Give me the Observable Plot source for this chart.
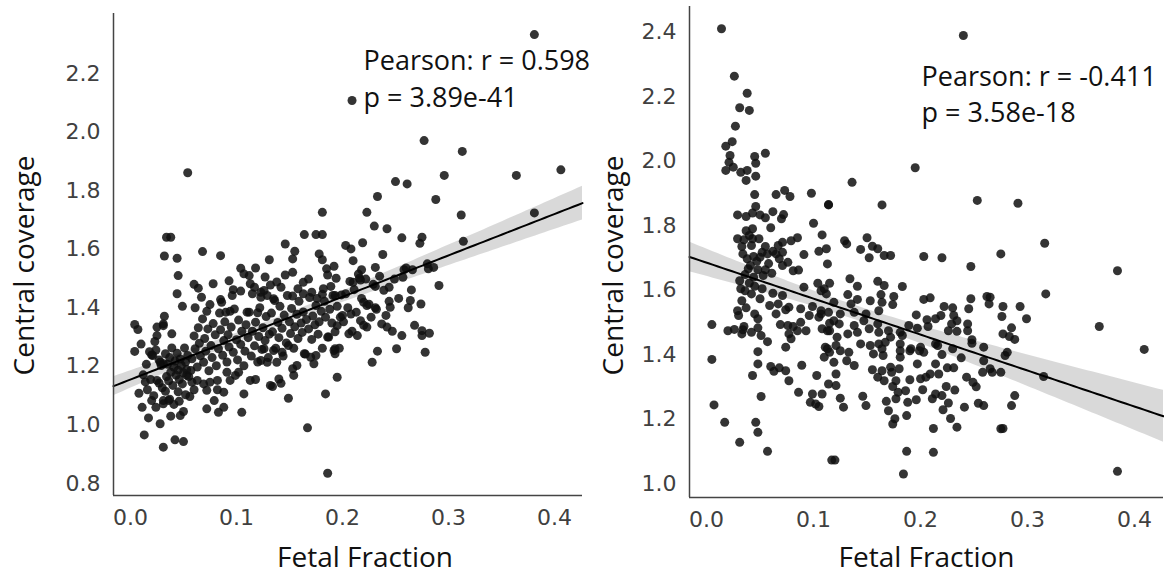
<!DOCTYPE html>
<html><head><meta charset="utf-8">
<script src="https://cdn.jsdelivr.net/npm/d3@7"></script>
<script src="https://cdn.jsdelivr.net/npm/@observablehq/plot@0.6"></script>
<style>
body{margin:0;background:#fff;}
#wrap{display:flex;width:1164px;height:574px;overflow:hidden;background:#fff;}
#wrap svg{overflow:visible;}
</style></head><body><div id="wrap"></div>
<script>
const xTicks = [0.0, 0.1, 0.2, 0.3, 0.4];
const leftYTicks = [0.8, 1.0, 1.2, 1.4, 1.6, 1.8, 2.0, 2.2];
const rightYTicks = [1.0, 1.2, 1.4, 1.6, 1.8, 2.0, 2.2, 2.4];
const xLabel = "Fetal Fraction";
const yLabel = "Central coverage";
const leftStats = ["Pearson: r = 0.598", "p = 3.89e-41"];
const rightStats = ["Pearson: r = -0.411", "p = 3.58e-18"];

// [fetal fraction, central coverage] — left panel
const leftPoints = [
[0.054,1.861],[0.034,1.641],[0.038,1.641],[0.032,1.577],[0.044,1.569],[0.068,1.592],[0.085,1.578],[0.131,1.564],[0.045,1.510],[0.104,1.535],[0.118,1.536],[0.107,1.516],[0.112,1.510],[0.078,1.482],[0.064,1.467],[0.113,1.482],[0.097,1.462],[0.104,1.457],[0.044,1.448],[0.067,1.436],[0.085,1.428],[0.086,1.419],[0.096,1.442],[0.115,1.448],[0.123,1.453],[0.129,1.442],[0.049,1.405],[0.061,1.400],[0.075,1.411],[0.072,1.388],[0.090,1.385],[0.094,1.388],[0.110,1.385],[0.120,1.383],[0.032,1.371],
[0.004,1.343],[0.007,1.326],[0.031,1.345],[0.031,1.339],[0.025,1.334],[0.025,1.305],[0.039,1.311],[0.004,1.251],[0.020,1.239],[0.028,1.214],[0.031,1.209],[0.019,1.155],[0.025,1.152],[0.030,1.127],[0.016,1.120],[0.022,1.100],[0.020,1.083],[0.024,1.060],[0.031,1.083],[0.036,1.083],[0.031,1.072],[0.017,1.024],[0.028,1.004],[0.013,0.966],[0.031,0.924],[0.042,0.949],[0.050,0.943],[0.038,1.030],[0.047,1.032],[0.050,1.046],
[0.056,1.097],[0.072,1.055],[0.079,1.083],[0.088,1.060],[0.083,1.043],[0.105,1.043],[0.107,1.106],[0.113,1.152],[0.118,1.155],[0.072,1.118],[0.082,1.120],[0.088,1.112],[0.060,1.120],[0.063,1.152],[0.058,1.146],[0.057,1.186],[0.053,1.169],[0.069,1.140],[0.075,1.146],[0.082,1.152],[0.091,1.180],[0.099,1.169],[0.094,1.152],[0.102,1.180],[0.132,1.135],
[0.250,1.831],[0.261,1.823],[0.233,1.780],[0.181,1.726],[0.223,1.726],[0.230,1.679],[0.242,1.670],[0.164,1.650],[0.175,1.650],[0.181,1.650],[0.256,1.639],[0.275,1.641],[0.273,1.620],[0.146,1.618],[0.155,1.593],[0.153,1.567],
[0.203,1.613],[0.208,1.601],[0.219,1.622],[0.178,1.584],[0.181,1.564],[0.210,1.561],[0.238,1.582],[0.153,1.521],[0.185,1.533],[0.192,1.542],[0.186,1.512],[0.194,1.501],[0.218,1.530],[0.216,1.501],[0.231,1.538],[0.260,1.536],[0.266,1.530],[0.280,1.550],[0.163,1.487],[0.142,1.470],[0.153,1.440],[0.163,1.448],[0.171,1.453],[0.182,1.465],[0.189,1.473],[0.181,1.446],
[0.210,1.487],[0.217,1.495],[0.231,1.473],[0.244,1.470],[0.257,1.504],[0.265,1.461],[0.244,1.422],[0.264,1.425],[0.274,1.413],[0.199,1.444],[0.193,1.442],[0.126,1.459],[0.135,1.431],[0.123,1.436],[0.220,1.419],[0.223,1.408],[0.231,1.400],[0.241,1.374],[0.242,1.334],[0.247,1.320],[0.256,1.305],[0.275,1.322],[0.275,1.305],[0.278,1.248],[0.251,1.260],[0.233,1.252],[0.228,1.214],[0.200,1.374],[0.208,1.379],[0.206,1.311],[0.214,1.305],[0.217,1.356],[0.223,1.334],[0.195,1.339],[0.187,1.300],[0.192,1.254],[0.195,1.163],
[0.193,1.260],[0.193,1.243],[0.184,1.106],[0.149,1.091],[0.134,1.131],[0.142,1.142],[0.140,1.157],[0.154,1.169],[0.167,0.990],[0.186,0.835],[0.173,1.209],[0.175,1.237],[0.170,1.231],[0.164,1.243],[0.157,1.203],[0.153,1.192],[0.138,1.214],[0.129,1.214],[0.123,1.220],[0.126,1.260],[0.135,1.254],[0.143,1.248],[0.149,1.271],
[0.381,2.333],[0.277,1.971],[0.313,1.934],[0.296,1.852],[0.364,1.852],[0.406,1.871],[0.288,1.770],[0.312,1.717],[0.381,1.724],[0.314,1.627],[0.286,1.538],[0.281,1.533],[0.291,1.476],[0.282,1.313],[0.209,2.108],
[0.021,1.237],[0.024,1.256],[0.027,1.222],[0.029,1.203],[0.033,1.243],[0.034,1.165],[0.035,1.207],[0.036,1.151],[0.037,1.230],[0.038,1.180],[0.039,1.263],[0.040,1.135],[0.041,1.197],[0.042,1.218],[0.043,1.170],[0.044,1.245],[0.045,1.113],[0.045,1.187],[0.046,1.155],[0.047,1.225],[0.048,1.203],[0.049,1.140],[0.050,1.178],[0.051,1.263],[0.052,1.215],[0.053,1.189],[0.054,1.237],[0.055,1.165],[0.012,1.171],[0.015,1.207],[0.018,1.250],[0.010,1.276],[0.023,1.285],[0.027,1.143],[0.033,1.115],[0.037,1.088],[0.041,1.070],[0.046,1.081],[0.052,1.103],[0.008,1.108],[0.011,1.060],[0.014,1.147],
[0.058,1.226],[0.060,1.304],[0.061,1.260],[0.063,1.198],[0.064,1.332],[0.065,1.279],[0.066,1.236],[0.068,1.362],[0.069,1.214],[0.070,1.295],[0.071,1.252],[0.073,1.328],[0.074,1.185],[0.076,1.271],[0.077,1.230],[0.078,1.346],[0.080,1.308],[0.081,1.202],[0.083,1.260],[0.084,1.382],[0.085,1.325],[0.087,1.238],[0.088,1.288],[0.089,1.352],[0.091,1.215],[0.092,1.308],[0.093,1.266],[0.095,1.334],[0.097,1.248],[0.098,1.396],[0.100,1.291],[0.101,1.222],[0.102,1.358],[0.104,1.275],[0.105,1.320],[0.107,1.202],[0.108,1.252],[0.109,1.342],[0.111,1.298],[0.112,1.385],[0.114,1.235],[0.115,1.320],[0.117,1.270],[0.118,1.351],[0.120,1.215],[0.121,1.302],[0.122,1.400],[0.124,1.258],[0.125,1.332],[0.127,1.288],[0.128,1.370],[0.130,1.230],[0.131,1.310],
[0.133,1.382],[0.134,1.318],[0.136,1.425],[0.137,1.262],[0.139,1.350],[0.140,1.298],[0.141,1.405],[0.143,1.330],[0.144,1.235],[0.145,1.375],[0.147,1.280],[0.148,1.442],[0.150,1.352],[0.151,1.312],[0.152,1.398],[0.154,1.262],[0.155,1.335],[0.157,1.378],[0.158,1.295],[0.159,1.422],[0.161,1.348],[0.162,1.316],[0.163,1.386],[0.165,1.242],[0.166,1.360],[0.168,1.328],[0.169,1.435],[0.171,1.292],[0.172,1.372],[0.174,1.342],[0.175,1.408],[0.177,1.310],[0.178,1.352],[0.180,1.388],[0.181,1.262],[0.183,1.422],[0.184,1.368],[0.186,1.300],[0.188,1.395],[0.190,1.348],[0.191,1.442],[0.193,1.318],[0.195,1.405],[0.197,1.262],[0.198,1.368],
[0.201,1.352],[0.203,1.448],[0.205,1.400],[0.207,1.490],[0.209,1.320],[0.211,1.462],[0.213,1.385],[0.215,1.515],[0.218,1.432],[0.220,1.340],[0.222,1.498],[0.225,1.412],[0.227,1.368],[0.229,1.480],[0.232,1.395],[0.235,1.508],[0.237,1.345],[0.239,1.460],[0.245,1.402],[0.249,1.498],[0.253,1.432],[0.258,1.530],[0.262,1.400],[0.268,1.340],
[0.138,1.488],[0.146,1.512],[0.158,1.465],[0.168,1.498],[0.127,1.505],[0.117,1.470],[0.093,1.492],[0.176,1.432],[0.132,1.478],[0.060,1.480]
];

// [fetal fraction, central coverage] — right panel
const rightPoints = [
[0.014,2.410],[0.026,2.263],[0.038,2.210],[0.031,2.165],[0.040,2.157],[0.027,2.108],[0.024,2.060],[0.018,2.046],[0.022,2.017],[0.021,1.996],[0.018,1.971],[0.025,1.981],[0.032,1.965],[0.038,1.971],[0.037,1.940],[0.046,1.953],[0.045,2.014],[0.046,1.993],[0.055,2.024],[0.045,1.896],[0.065,1.896],[0.073,1.909],[0.078,1.890],[0.098,1.900],[0.114,1.865],[0.046,1.859],[0.029,1.833],[0.037,1.828],[0.043,1.839],[0.050,1.833],[0.055,1.824],[0.062,1.843],[0.070,1.821],[0.072,1.834],[0.100,1.807],[0.060,1.793],[0.037,1.784],[0.043,1.790],[0.040,1.769],[0.029,1.759],[0.035,1.756],[0.043,1.759],[0.049,1.759],[0.033,1.735],[0.042,1.738],[0.085,1.762],[0.079,1.753],[0.071,1.748],[0.067,1.738],[0.108,1.771],[0.112,1.728],[0.105,1.720],[0.055,1.735],[0.062,1.720],[0.052,1.717],[0.071,1.717],
[0.005,1.493],[0.005,1.385],[0.007,1.244],[0.017,1.190],[0.031,1.128],[0.046,1.190],[0.048,1.159],[0.057,1.100],[0.051,1.270],[0.043,1.335],[0.048,1.409],[0.048,1.371],[0.060,1.363],[0.063,1.348],[0.068,1.359],[0.074,1.350],[0.077,1.319],[0.089,1.367],[0.086,1.283],[0.099,1.278],[0.097,1.252],[0.102,1.247],[0.105,1.239],[0.108,1.278],[0.103,1.335],[0.114,1.309],[0.117,1.073],[0.020,1.474],[0.026,1.478],[0.034,1.477],[0.035,1.487],[0.033,1.464],[0.042,1.469],[0.048,1.483],[0.051,1.459],[0.057,1.440],[0.029,1.536],[0.030,1.521],[0.037,1.545],[0.033,1.567],[0.042,1.588],[0.050,1.573],[0.052,1.604],[0.045,1.526],[0.048,1.511],[0.032,1.604],[0.031,1.629],[0.038,1.697],[0.044,1.704],[0.041,1.676],[0.050,1.702],[0.057,1.712],[0.065,1.712],[0.068,1.697],[0.071,1.676],[0.076,1.686],[0.081,1.660],[0.086,1.662],[0.091,1.710],[0.113,1.681],[0.039,1.666],[0.048,1.663],[0.055,1.663],[0.062,1.590],[0.071,1.583],[0.067,1.557],[0.059,1.552],[0.065,1.526],[0.074,1.539],[0.077,1.547],[0.091,1.609],[0.104,1.621],[0.110,1.604],[0.115,1.621],[0.112,1.588],[0.088,1.542],[0.096,1.521],[0.105,1.516],[0.107,1.536],[0.099,1.549],[0.115,1.497],[0.115,1.474],[0.108,1.480],[0.069,1.493],[0.076,1.490],[0.081,1.487],[0.085,1.474],[0.077,1.464],[0.079,1.449],[0.074,1.423],[0.088,1.500],[0.093,1.474],[0.111,1.423],[0.115,1.407],
[0.034,1.712],[0.036,1.648],[0.040,1.622],[0.044,1.640],[0.047,1.689],[0.053,1.645],[0.058,1.682],[0.061,1.652],[0.036,1.598],[0.045,1.612],
[0.195,1.979],[0.136,1.934],[0.114,1.864],[0.164,1.864],[0.253,1.878],[0.129,1.753],[0.131,1.743],[0.150,1.762],[0.155,1.736],[0.160,1.728],[0.144,1.726],[0.152,1.700],[0.166,1.707],[0.172,1.707],[0.203,1.704],[0.220,1.700],[0.247,1.673],[0.275,1.712],[0.134,1.635],[0.141,1.612],[0.132,1.586],[0.141,1.571],[0.153,1.567],[0.160,1.627],[0.166,1.614],[0.163,1.586],[0.175,1.580],[0.183,1.611],[0.119,1.562],[0.107,1.598],[0.174,1.555],[0.164,1.562],[0.161,1.536],[0.149,1.526],[0.135,1.557],[0.138,1.531],[0.125,1.526],[0.119,1.505],[0.114,1.531],[0.203,1.571],[0.209,1.576],[0.196,1.523],[0.222,1.549],[0.230,1.545],[0.245,1.542],[0.247,1.573],[0.262,1.580],[0.264,1.557],[0.206,1.508],[0.214,1.511],[0.207,1.487],[0.219,1.521],[0.231,1.521],[0.234,1.505],[0.229,1.495],[0.226,1.474],[0.234,1.472],[0.244,1.495],[0.244,1.474],[0.248,1.446],[0.189,1.490],[0.197,1.482],[0.181,1.469],[0.183,1.459],[0.170,1.474],[0.172,1.454],[0.160,1.495],[0.161,1.469],[0.152,1.480],[0.147,1.505],[0.141,1.469],[0.138,1.490],[0.132,1.464],[0.124,1.495],[0.122,1.454],[0.113,1.474],[0.107,1.526],[0.144,1.433],[0.153,1.428],[0.161,1.433],[0.167,1.438],[0.181,1.433],[0.191,1.418],[0.200,1.423],[0.214,1.433],[0.230,1.418],[0.248,1.435],[0.259,1.423],
[0.120,1.073],[0.184,1.030],[0.187,1.100],[0.212,1.097],[0.212,1.171],[0.234,1.175],[0.228,1.202],[0.221,1.229],[0.241,1.237],[0.254,1.249],[0.259,1.242],[0.249,1.314],[0.258,1.345],[0.267,1.345],[0.259,1.381],[0.275,1.170],[0.187,1.211],[0.174,1.185],[0.176,1.201],[0.170,1.226],[0.168,1.255],[0.177,1.263],[0.188,1.252],[0.196,1.260],[0.186,1.288],[0.190,1.322],[0.179,1.283],[0.177,1.319],[0.174,1.301],[0.146,1.271],[0.149,1.242],[0.125,1.265],[0.128,1.237],[0.121,1.304],[0.202,1.291],[0.211,1.263],[0.214,1.278],[0.224,1.301],[0.220,1.273],[0.200,1.325],[0.197,1.371],[0.209,1.340],[0.217,1.340],[0.225,1.359],[0.231,1.359],[0.214,1.371],[0.220,1.400],[0.216,1.428],[0.203,1.407],[0.155,1.353],[0.164,1.350],[0.160,1.330],[0.166,1.319],[0.173,1.345],[0.180,1.356],[0.172,1.361],[0.181,1.392],[0.181,1.412],[0.190,1.412],[0.199,1.412],[0.165,1.397],[0.164,1.418],[0.156,1.402],[0.113,1.418],[0.121,1.428],[0.110,1.392],[0.119,1.376],[0.121,1.340],[0.131,1.381],[0.138,1.366],[0.133,1.407],[0.125,1.412],[0.265,1.356],[0.275,1.345],
[0.205,1.330],[0.232,1.290],[0.243,1.330],[0.226,1.250],[0.252,1.300],[0.238,1.390],
[0.291,1.869],[0.316,1.745],[0.384,1.660],[0.317,1.588],[0.265,1.578],[0.277,1.549],[0.293,1.549],[0.276,1.518],[0.299,1.511],[0.285,1.483],[0.277,1.464],[0.283,1.456],[0.288,1.447],[0.367,1.487],[0.409,1.416],[0.281,1.407],[0.279,1.397],[0.315,1.332],[0.288,1.273],[0.285,1.242],[0.277,1.171],[0.384,1.038],[0.240,2.389]
];

// regression fit with 95% confidence band, computed from the points
function fitBand(pts, [x0, x1]) {
  const n = pts.length;
  const mx = d3.mean(pts, d => d[0]), my = d3.mean(pts, d => d[1]);
  let sxx = 0, sxy = 0;
  for (const [x, y] of pts) { sxx += (x - mx) ** 2; sxy += (x - mx) * (y - my); }
  const b = sxy / sxx, a = my - b * mx;
  let sse = 0;
  for (const [x, y] of pts) sse += (y - a - b * x) ** 2;
  const s = Math.sqrt(sse / (n - 2)), t = 1.966;
  return d3.range(0, 101).map(i => {
    const x = x0 + (x1 - x0) * i / 100, y = a + b * x;
    const h = t * s * Math.sqrt(1 / n + (x - mx) ** 2 / sxx);
    return {x, y, lo: y - h, hi: y + h};
  });
}

function panel({points, xDomain, yDomain, yTicks, stats, statX, statY, margins, yLabelDx, yLabelDy, xLabelDx, xLabelDy}) {
  const fit = fitBand(points, xDomain);
  return Plot.plot({
    width: 582, height: 574,
    marginLeft: margins[0], marginRight: margins[1], marginTop: margins[2], marginBottom: margins[3],
    x: {domain: xDomain},
    y: {domain: yDomain},
    style: {fontFamily: "DejaVu Sans", fontSize: "22px", color: "#404040", background: "transparent", overflow: "visible"},
    marks: [
      Plot.dot(points, {x: d => d[0], y: d => d[1], r: 4.5, fill: "#111", fillOpacity: 0.85, stroke: "none"}),
      Plot.areaY(fit, {x: "x", y1: "lo", y2: "hi", fill: "#000", fillOpacity: 0.15}),
      Plot.line(fit, {x: "x", y: "y", stroke: "#000", strokeWidth: 2}),
      Plot.ruleX([xDomain[0]], {stroke: "#444", strokeWidth: 1.5}),
      Plot.ruleY([yDomain[0]], {stroke: "#444", strokeWidth: 1.5}),
      Plot.axisX({ticks: xTicks, tickSize: 0, tickPadding: 14, tickFormat: d => d.toFixed(1), label: null}),
      Plot.axisY({ticks: yTicks, tickSize: 0, tickPadding: 13, tickFormat: d => d.toFixed(1), label: null}),
      Plot.text(stats, {x: statX, y: (d, i) => statY[i], text: d => d, textAnchor: "start", lineAnchor: "middle",
        fontFamily: "Open Sans", fontSize: 27, fill: "#111"}),
      Plot.text([yLabel], {frameAnchor: "left", dx: yLabelDx, dy: yLabelDy, rotate: -90, textAnchor: "middle", lineAnchor: "middle",
        fontFamily: "Open Sans", fontSize: 28, fill: "#111"}),
      Plot.text([xLabel], {frameAnchor: "bottom", dx: xLabelDx, dy: xLabelDy, textAnchor: "middle", lineAnchor: "middle",
        fontFamily: "Open Sans", fontSize: 28, fill: "#111"})
    ]
  });
}

const wrap = document.getElementById("wrap");
wrap.append(panel({
  points: leftPoints, xDomain: [-0.016, 0.4264], yDomain: [0.759, 2.405], yTicks: leftYTicks,
  stats: leftStats, statX: 0.2198, statY: [2.243, 2.116],
  margins: [113, 0, 13, 79], yLabelDx: -88, yLabelDy: 11, xLabelDx: 17, xLabelDy: 63
}));
wrap.append(panel({
  points: rightPoints, xDomain: [-0.0159, 0.427], yDomain: [0.957, 2.479], yTicks: rightYTicks,
  stats: rightStats, statX: 0.2009, statY: [2.258, 2.149],
  margins: [107, 1, 6, 77], yLabelDx: -75, yLabelDy: 13.5, xLabelDx: 0, xLabelDy: 61
}));
</script></body></html>
